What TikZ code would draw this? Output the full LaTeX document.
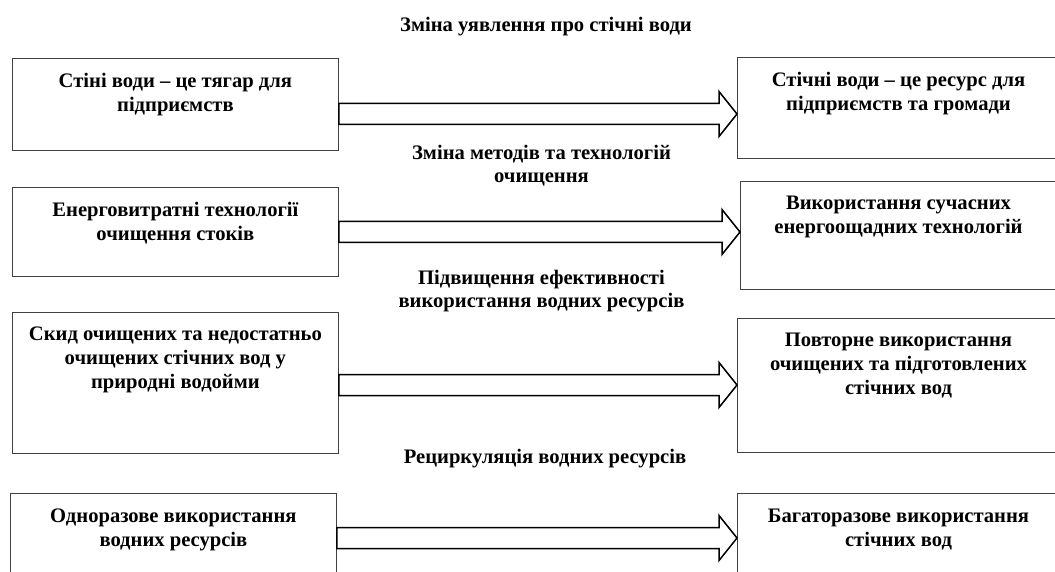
\documentclass[tikz,border=0pt]{standalone}
\usepackage{fontspec}
\setmainfont{Liberation Serif}
\usetikzlibrary{positioning,calc}
\begin{document}
\begin{tikzpicture}[x=1pt,y=-1pt,
    box/.style={draw=black!75,line width=0.8pt,anchor=north west,minimum width=326pt,inner sep=0pt},
    rbox/.style={box,minimum width=360pt},
    boxtext/.style={align=center,inner sep=0pt,anchor=north,font=\fontsize{20.6}{24}\selectfont\bfseries},
    lab/.style={align=center,inner sep=0pt,anchor=north,font=\fontsize{20.6}{23.5}\selectfont\bfseries},
    fat/.style={line width=1.5pt,to path={let \p1=(\tikztostart), \p2=(\tikztotarget) in
        (\x1,\y1+10.5pt) -- (\x2-18pt,\y1+10.5pt) -- (\x2-18pt,\y1+22.5pt) -- (\x2,\y1)
        -- (\x2-18pt,\y1-22.5pt) -- (\x2-18pt,\y1-10.5pt) -- (\x1,\y1-10.5pt) -- cycle}}]
  \useasboundingbox (0,0) rectangle (1055,572);
  % left column
  \node[box,minimum height=92pt] (l1) at (12,58) {};
  \node[box,minimum height=89pt] (l2) at (12,187) {};
  \node[box,minimum height=141pt] (l3) at (12,312) {};
  \node[box,minimum height=100pt] (l4) at (10,493) {};
  % right column (runs off the page on the right)
  \node[rbox,minimum height=101pt] (r1) at (737,57) {};
  \node[rbox,minimum height=108pt] (r2) at (740,181) {};
  \node[rbox,minimum height=134pt] (r3) at (737,318) {};
  \node[rbox,minimum height=100pt] (r4) at (737,493) {};
  % box texts
  \node[boxtext,below=15pt of l1.north] (l1t) {Стіні води -- це тягар для\\підприємств};
  \node[boxtext,below=15pt of l2.north] (l2t) {Енерговитратні технології\\очищення стоків};
  \node[boxtext,below=15pt of l3.north] (l3t) {Скид очищених та недостатньо\\очищених стічних вод у\\природні водойми};
  \node[boxtext,below=16pt of l4.north] (l4t) {Одноразове використання\\водних ресурсів};
  \node[boxtext] (r1t) at ($(r1.north west)+(161.5,15)$) {Стічні води -- це ресурс для\\підприємств та громади};
  \node[boxtext] (r2t) at ($(r2.north west)+(158.5,15)$) {Використання сучасних\\енергоощадних технологій};
  \node[boxtext] (r3t) at ($(r3.north west)+(161.5,15)$) {Повторне використання\\очищених та підготовлених\\стічних вод};
  \node[boxtext] (r4t) at ($(r4.north west)+(161.5,16)$) {Багаторазове використання\\стічних вод};
  % captions over the arrows
  \node[lab] (c1) at (546,17) {Зміна уявлення про стічні води};
  \node[lab] (c2) at (541.5,145) {Зміна методів та технологій\\очищення};
  \node[lab] (c3) at (541.5,270) {Підвищення ефективності\\використання водних ресурсів};
  \node[lab] (c4) at (545,449) {Рециркуляція водних ресурсів};
  % block arrows
  \draw[fat] (l1.east |- 0,114) to (r1.west |- 0,114);
  \draw[fat] (l2.east |- 0,232) to (r2.west |- 0,232);
  \draw[fat] (l3.east |- 0,385) to (r3.west |- 0,385);
  \draw[fat] (l4.east |- 0,538) to (r4.west |- 0,538);
\end{tikzpicture}
\end{document}
